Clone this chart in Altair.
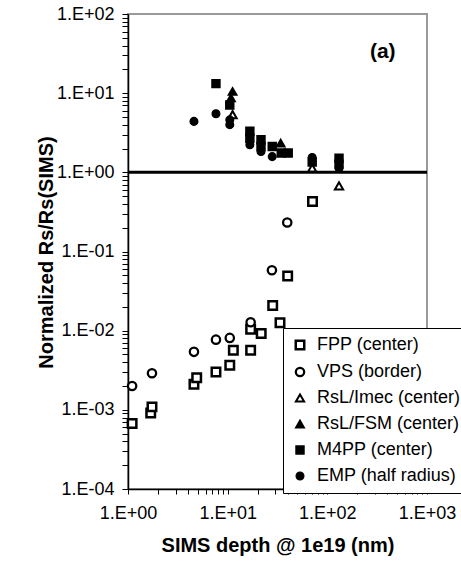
import altair as alt
import pandas as pd

# ---- data ----
series_order = ["FPP (center)", "VPS (border)", "RsL/Imec (center)",
                "RsL/FSM (center)", "M4PP (center)", "EMP (half radius)"]

fpp_x = [1.1, 1.69, 1.74, 4.59, 4.89, 7.63, 10.5, 11.4, 17.0, 17.0, 21.7, 28.3, 33.5, 40.0, 71.0]
fpp_y = [0.00067, 0.00091, 0.00109, 0.0021, 0.00255, 0.0030, 0.00366, 0.00566,
         0.00566, 0.0104, 0.0092, 0.0208, 0.01256, 0.049, 0.427]

vps_x = [1.1, 1.74, 4.59, 7.63, 10.5, 17.0, 27.8, 39.6]
vps_y = [0.0020, 0.0029, 0.0054, 0.0077, 0.0081, 0.0128, 0.058, 0.232]

imec_x = [11.2, 70.5, 131.0]
imec_y = [5.35, 1.13, 0.675]

fsm_x = [11.2, 10.8, 34.0]
fsm_y = [10.5, 8.7, 2.34]

m4pp_x = [7.63, 10.5, 16.7, 16.7, 21.6, 21.6, 28.0, 34.5, 40.5, 70.5, 131.0, 131.0]
m4pp_y = [13.2, 7.1, 3.3, 2.7, 2.58, 2.12, 2.12, 1.75, 1.75, 1.35, 1.51, 1.27]

emp_x = [4.59, 7.63, 10.5, 10.5, 16.7, 21.6, 28.0, 70.5, 131.0]
emp_y = [4.4, 5.5, 4.6, 4.0, 2.23, 1.83, 1.58, 1.54, 1.13]

x_decades = [1, 10, 100, 1000]
y_decades = [1e-4, 1e-3, 1e-2, 1e-1, 1, 10, 100]

# ---- build table ----
rows = []
for name, xs, ys in [(series_order[0], fpp_x, fpp_y), (series_order[1], vps_x, vps_y),
                     (series_order[2], imec_x, imec_y), (series_order[3], fsm_x, fsm_y),
                     (series_order[4], m4pp_x, m4pp_y), (series_order[5], emp_x, emp_y)]:
    for xv, yv in zip(xs, ys):
        rows.append({"series": name, "depth": xv, "ratio": yv})
df = pd.DataFrame(rows)

x_ticks = [d * m for d in x_decades[:-1] for m in range(1, 10)] + [x_decades[-1]]
y_ticks = [d * m for d in y_decades[:-1] for m in range(1, 10)] + [y_decades[-1]]

label_expr = ("abs(log(datum.value)/LN10 - round(log(datum.value)/LN10)) < 0.001 ? "
              "'1.E' + (datum.value >= 1 ? '+' : '-') + '0' + abs(round(log(datum.value)/LN10)) : ''")

FONT = "Liberation Sans"

x_scale = alt.Scale(type="log", domain=[1, 1000], nice=False)
y_scale = alt.Scale(type="log", domain=[1e-4, 100], nice=False)

legend = alt.Legend(
    title=None, orient="none", legendX=155, legendY=314,
    strokeColor="black", fillColor="white", padding=8,
    labelFontSize=18, labelFont=FONT, labelColor="black",
    rowPadding=8, labelOffset=8,
)

points = alt.Chart(df).mark_point(filled=True, opacity=1).encode(
    x=alt.X("depth:Q", scale=x_scale,
            axis=alt.Axis(values=x_ticks, labelExpr=label_expr, title="SIMS depth @ 1e19 (nm)",
                          tickSize=5, labelPadding=10, titleY=56, titleBaseline="middle",
                          labelFlush=False, labelOverlap=False)),
    y=alt.Y("ratio:Q", scale=y_scale,
            axis=alt.Axis(values=y_ticks, labelExpr=label_expr, title="Normalized Rs/Rs(SIMS)",
                          tickSize=6, labelPadding=8, titleX=-82, titleY=238,
                          titleBaseline="middle", titleAngle=-90,
                          labelFlush=False, labelOverlap=False)),
    shape=alt.Shape("series:N", sort=series_order, legend=legend,
                    scale=alt.Scale(domain=series_order,
                                    range=["square", "circle", "triangle-up", "triangle-up", "square", "circle"])),
    fill=alt.Fill("series:N", sort=series_order, legend=legend,
                  scale=alt.Scale(domain=series_order,
                                  range=["white", "white", "white", "black", "black", "black"])),
    stroke=alt.Stroke("series:N", sort=series_order, legend=legend,
                      scale=alt.Scale(domain=series_order,
                                      range=["black", "black", "black", "black", "black", "black"])),
    strokeWidth=alt.StrokeWidth("series:N", sort=series_order, legend=legend,
                                scale=alt.Scale(domain=series_order, range=[2.5, 1.3, 1.3, 1, 1, 1])),
    size=alt.Size("series:N", sort=series_order, legend=legend,
                  scale=alt.Scale(domain=series_order, range=[72, 60, 70, 85, 85, 75])),
)

hline = alt.Chart(pd.DataFrame({"ratio": [1]})).mark_rule(color="black", strokeWidth=3).encode(
    y=alt.Y("ratio:Q", scale=y_scale),
)

label_a = alt.Chart(pd.DataFrame({"depth": [360], "ratio": [33], "t": ["(a)"]})).mark_text(
    font=FONT, fontSize=21, fontWeight="bold", color="black", align="center", baseline="middle"
).encode(
    x=alt.X("depth:Q", scale=x_scale),
    y=alt.Y("ratio:Q", scale=y_scale),
    text="t:N",
)

chart = alt.layer(points, hline, label_a).properties(
    width=299, height=475,
    autosize=alt.AutoSizeParams(type="none"),
    padding={"left": 128, "top": 14, "right": 34, "bottom": 77},
).configure_view(
    stroke="#9a9a9a", strokeWidth=2
).configure_axis(
    grid=False, domainColor="black", domainWidth=1.5, tickColor="black", tickWidth=1,
    labelFont=FONT, labelFontSize=18, labelColor="black",
    titleFont=FONT, titleFontSize=20, titleFontWeight="bold", titleColor="black",
)

chart.save("out.html", embed_options={"renderer": "svg", "actions": False})
